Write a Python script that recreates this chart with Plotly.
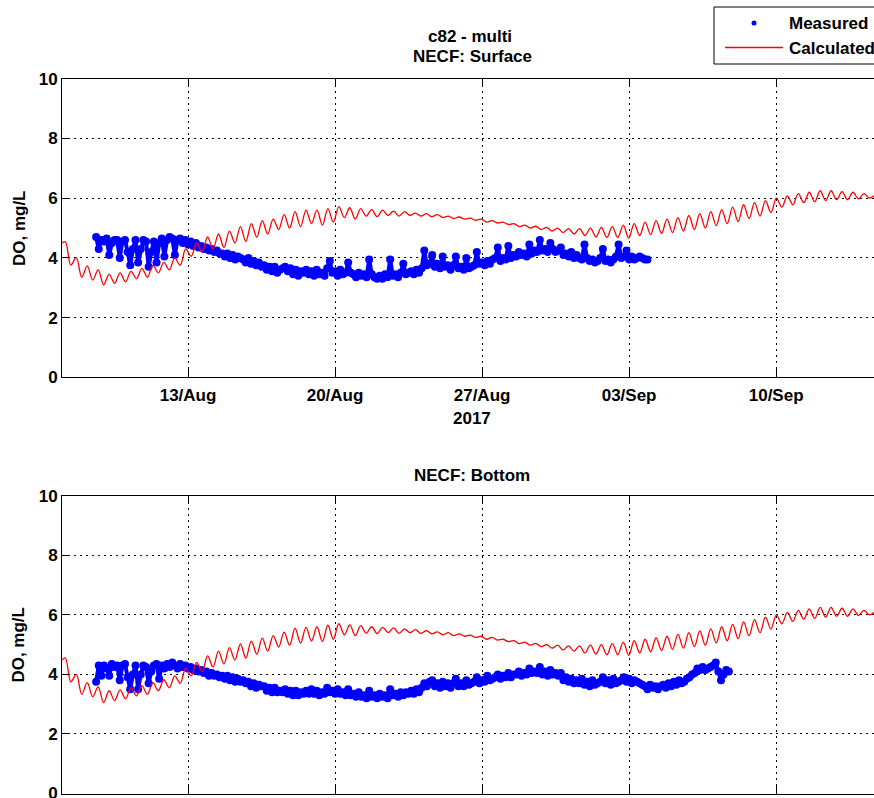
import pandas as pd
import plotly.graph_objects as go

# ---------------------------------------------------------------- data
tick_dates = ["2017-08-13", "2017-08-20", "2017-08-27", "2017-09-03", "2017-09-10"]
tick_labels = ["13/Aug", "20/Aug", "27/Aug", "03/Sep", "10/Sep"]
y_ticks = [0, 2, 4, 6, 8, 10]

x_start = "2017-08-07 00:00"
x_end = "2017-09-14 15:50"

# Measured DO (mg/L), 3-hourly samples starting 2017-08-08 15:00
meas_start = "2017-08-08 15:00"
meas_surface = [
    4.70, 4.30, 4.60, 4.55, 4.65, 4.10, 4.50, 4.60,
    4.60, 4.00, 4.55, 4.60, 4.20, 3.75, 4.30, 4.60,
    3.85, 4.30, 4.60, 4.55, 3.70, 4.20, 4.55, 3.85,
    4.50, 4.65, 4.05, 4.60, 4.70, 4.65, 4.10, 4.60,
    4.65, 4.50, 4.60, 4.45, 4.55, 4.40, 4.50, 4.35,
    4.40, 4.30, 4.35, 4.25, 4.30, 4.20, 4.25, 4.15,
    4.15, 4.05, 4.15, 4.00, 4.10, 3.95, 4.05, 4.00,
    3.95, 3.85, 4.00, 3.80, 3.90, 3.75, 3.85, 3.70,
    3.75, 3.60, 3.70, 3.55, 3.70, 3.50, 3.60, 3.65,
    3.70, 3.55, 3.65, 3.45, 3.60, 3.40, 3.55, 3.50,
    3.60, 3.45, 3.55, 3.40, 3.60, 3.45, 3.50, 3.40,
    3.65, 3.90, 3.50, 3.55, 3.40, 3.60, 3.45, 3.50,
    3.85, 3.50, 3.45, 3.35, 3.50, 3.40, 3.45, 3.35,
    3.95, 3.45, 3.35, 3.30, 3.40, 3.30, 3.45, 3.35,
    3.95, 3.40, 3.45, 3.35, 3.50, 3.80, 3.45, 3.50,
    3.55, 3.45, 3.60, 3.50, 3.65, 4.25, 3.75, 3.80,
    4.10, 3.70, 3.80, 3.65, 4.05, 3.70, 3.75, 3.60,
    3.75, 4.05, 3.65, 3.70, 3.60, 4.00, 3.65, 3.70,
    3.75, 4.20, 3.80, 3.85, 3.75, 3.90, 3.80, 3.95,
    4.00, 4.35, 3.90, 4.00, 3.95, 4.40, 4.00, 4.10,
    4.05, 4.20, 4.10, 4.15, 4.05, 4.45, 4.15, 4.25,
    4.20, 4.60, 4.25, 4.30, 4.20, 4.50, 4.30, 4.20,
    4.25, 4.35, 4.10, 4.15, 4.05, 4.20, 4.00, 4.10,
    4.00, 3.95, 4.45, 4.00, 3.90, 3.95, 3.85, 3.90,
    4.00, 4.30, 3.90, 3.95, 3.85, 3.95, 4.05, 4.45,
    4.00, 4.05, 4.25, 3.95, 4.05, 3.95, 4.00, 4.05,
    4.00, 3.95, 3.95,
]
meas_bottom = [
    3.75, 4.30, 3.95, 4.30, 4.20, 3.95, 4.35, 4.25,
    4.30, 3.80, 4.30, 4.35, 3.90, 3.50, 4.00, 4.30,
    3.50, 4.00, 4.30, 4.25, 3.70, 4.10, 4.30, 4.35,
    3.85, 4.30, 4.20, 4.35, 4.25, 4.40, 4.30, 4.20,
    4.35, 4.25, 4.30, 4.20, 4.25, 4.15, 4.20, 4.10,
    4.15, 4.05, 4.10, 3.95, 4.05, 3.95, 4.00, 3.90,
    3.95, 3.85, 3.95, 3.80, 3.90, 3.75, 3.85, 3.75,
    3.80, 3.70, 3.75, 3.60, 3.70, 3.55, 3.65, 3.60,
    3.60, 3.45, 3.55, 3.40, 3.55, 3.40, 3.45, 3.40,
    3.50, 3.35, 3.45, 3.30, 3.45, 3.30, 3.40, 3.35,
    3.45, 3.35, 3.50, 3.35, 3.45, 3.30, 3.40, 3.35,
    3.55, 3.40, 3.45, 3.35, 3.50, 3.35, 3.40, 3.30,
    3.50, 3.30, 3.35, 3.25, 3.40, 3.25, 3.30, 3.20,
    3.45, 3.25, 3.30, 3.20, 3.35, 3.25, 3.30, 3.20,
    3.50, 3.30, 3.35, 3.25, 3.40, 3.30, 3.40, 3.35,
    3.45, 3.35, 3.50, 3.40, 3.55, 3.70, 3.60, 3.75,
    3.80, 3.60, 3.70, 3.55, 3.75, 3.60, 3.70, 3.55,
    3.70, 3.85, 3.60, 3.70, 3.60, 3.80, 3.65, 3.70,
    3.75, 3.90, 3.70, 3.80, 3.75, 3.95, 3.80, 3.85,
    3.90, 4.00, 3.85, 3.95, 3.90, 4.05, 3.90, 4.00,
    4.00, 4.10, 3.95, 4.05, 4.00, 4.20, 4.05, 4.10,
    4.05, 4.25, 4.00, 4.10, 3.95, 4.15, 4.00, 4.05,
    3.95, 4.05, 3.80, 3.90, 3.75, 3.85, 3.70, 3.80,
    3.70, 3.85, 3.65, 3.75, 3.60, 3.80, 3.65, 3.70,
    3.75, 3.90, 3.70, 3.80, 3.65, 3.85, 3.70, 3.75,
    3.80, 3.90, 3.75, 3.85, 3.70, 3.80, 3.75, 3.70,
    3.65, 3.60, 3.50, 3.65, 3.55, 3.60, 3.50, 3.60,
    3.65, 3.55, 3.70, 3.60, 3.75, 3.65, 3.80, 3.70,
    3.75, 3.85, 3.90, 4.00, 4.05, 4.20, 4.15, 4.25,
    4.15, 4.20, 4.25, 4.30, 4.40, 4.10, 3.80, 4.00,
    4.15, 4.10,
]

# Calculated DO (mg/L): value at 2017-08-07 00:00, then alternating
# tidal highs and lows every 6.25 h starting 2017-08-07 03:50
calc_initial_surface = 4.49
calc_initial_bottom = 4.48
calc_start = "2017-08-07 03:50"
calc_surface = [
    4.54, 3.76, 4.01, 3.35, 3.73, 3.26, 3.60, 3.10, 3.45, 3.15,
    3.50, 3.20, 3.55, 3.30, 3.65, 3.35, 3.75, 3.50, 3.85, 3.60,
    4.00, 3.75, 4.30, 4.05, 4.50, 4.20, 4.70, 4.30, 4.80, 4.35,
    4.90, 4.50, 5.05, 4.55, 5.15, 4.70, 5.25, 4.80, 5.30, 4.95,
    5.45, 5.00, 5.55, 5.05, 5.60, 5.15, 5.60, 5.10, 5.65, 5.20,
    5.72, 5.35, 5.68, 5.30, 5.65, 5.40, 5.62, 5.38, 5.60, 5.42,
    5.57, 5.40, 5.55, 5.42, 5.50, 5.40, 5.48, 5.38, 5.45, 5.35,
    5.40, 5.32, 5.37, 5.30, 5.33, 5.26, 5.30, 5.20, 5.25, 5.17,
    5.20, 5.12, 5.15, 5.05, 5.10, 5.00, 5.06, 4.95, 5.02, 4.90,
    5.00, 4.85, 4.98, 4.80, 4.98, 4.75, 5.00, 4.70, 5.02, 4.68,
    5.05, 4.68, 5.10, 4.66, 5.15, 4.75, 5.20, 4.78, 5.25, 4.82,
    5.30, 4.85, 5.35, 4.90, 5.42, 4.95, 5.48, 5.00, 5.55, 5.08,
    5.62, 5.15, 5.70, 5.22, 5.78, 5.32, 5.85, 5.40, 5.92, 5.52,
    6.00, 5.70, 6.08, 5.78, 6.15, 5.85, 6.20, 5.88, 6.25, 5.92,
    6.25, 5.95, 6.22, 5.95, 6.20, 5.98, 6.15, 6.00, 6.10,
]
calc_bottom = [
    4.55, 3.75, 4.00, 3.33, 3.72, 3.25, 3.58, 3.05, 3.45, 3.12,
    3.48, 3.18, 3.55, 3.28, 3.62, 3.33, 3.72, 3.45, 3.82, 3.55,
    3.95, 3.70, 4.20, 3.95, 4.40, 4.10, 4.62, 4.25, 4.78, 4.35,
    4.90, 4.48, 5.02, 4.55, 5.12, 4.68, 5.22, 4.78, 5.30, 4.92,
    5.42, 4.98, 5.55, 5.05, 5.58, 5.12, 5.60, 5.10, 5.65, 5.18,
    5.70, 5.33, 5.66, 5.30, 5.64, 5.38, 5.60, 5.37, 5.58, 5.40,
    5.56, 5.38, 5.53, 5.40, 5.50, 5.38, 5.47, 5.36, 5.43, 5.33,
    5.40, 5.30, 5.36, 5.28, 5.32, 5.24, 5.28, 5.18, 5.24, 5.15,
    5.18, 5.10, 5.13, 5.03, 5.08, 4.98, 5.04, 4.93, 5.00, 4.88,
    4.98, 4.82, 4.96, 4.78, 4.96, 4.72, 4.98, 4.68, 5.00, 4.66,
    5.03, 4.66, 5.08, 4.64, 5.13, 4.72, 5.18, 4.76, 5.23, 4.80,
    5.28, 4.84, 5.34, 4.88, 5.40, 4.93, 5.46, 4.98, 5.53, 5.06,
    5.60, 5.13, 5.68, 5.20, 5.76, 5.30, 5.84, 5.40, 5.92, 5.52,
    6.00, 5.70, 6.08, 5.78, 6.15, 5.85, 6.20, 5.88, 6.25, 5.92,
    6.25, 5.95, 6.22, 5.95, 6.20, 5.98, 6.15, 6.00, 6.10,
]

# ---------------------------------------------------------------- styling
FONT = "Liberation Sans, Arial, Helvetica, sans-serif"
FS = 17
W, H = 874, 798
ML = 62
PLOT_W = W - ML
BLUE = "#0000ff"
RED = "#ff0000"


def px2x(px):
    return (px - ML) / PLOT_W


def py2y(py):
    return 1 - py / H


def text_font(size=FS):
    return dict(family=FONT, size=size, color="black", weight="bold")


meas_t_surface = pd.date_range(meas_start, periods=len(meas_surface), freq="3h")
meas_t_bottom = pd.date_range(meas_start, periods=len(meas_bottom), freq="3h")


def calc_times(n):
    t = pd.date_range(calc_start, periods=n, freq="375min")
    return [pd.Timestamp(x_start)] + list(t)


fig = go.Figure()

panels = [
    ("x", "y", meas_t_surface, meas_surface, calc_initial_surface, calc_surface),
    ("x2", "y2", meas_t_bottom, meas_bottom, calc_initial_bottom, calc_bottom),
]
for xa, ya, mt, mv, c0, cv in panels:
    # dense measured record: dots joined so rapid swings read as streaks
    fig.add_trace(go.Scatter(
        x=mt, y=mv, mode="lines+markers", name="Measured",
        marker=dict(color=BLUE, size=8, line=dict(width=0)),
        line=dict(color=BLUE, width=4),
        xaxis=xa, yaxis=ya, showlegend=False,
    ))
    fig.add_trace(go.Scatter(
        x=calc_times(len(cv)), y=[c0] + cv, mode="lines", name="Calculated",
        line=dict(color=RED, width=1.3, shape="spline", smoothing=1.0),
        xaxis=xa, yaxis=ya, showlegend=False,
    ))

grid = dict(showgrid=True, gridcolor="black", gridwidth=1, griddash="2px,4px")
xcommon = dict(
    type="date", range=[x_start, x_end], tickvals=tick_dates, ticktext=tick_labels,
    showline=True, linecolor="black", linewidth=1, mirror="ticks",
    ticks="inside", ticklen=8, tickcolor="black", zeroline=False,
    tickfont=text_font(), **grid,
)
ycommon = dict(
    range=[0, 10], tickvals=y_ticks, ticktext=[str(v) for v in y_ticks],
    showline=True, linecolor="black", linewidth=1, mirror=False,
    ticks="inside", ticklen=8, tickcolor="black", zeroline=False,
    ticklabeloverflow="allow",
    tickfont=text_font(), **grid,
)

top_y0, top_y1 = 377.3, 78.8
bot_y0, bot_y1 = 793.5, 495.7

fig.update_layout(
    width=W, height=H, template="none",
    margin=dict(l=ML, r=0, t=0, b=0, pad=0),
    paper_bgcolor="white", plot_bgcolor="white",
    showlegend=False,
    xaxis=dict(anchor="y", domain=[0, 1], ticklabelstandoff=2, **xcommon),
    yaxis=dict(anchor="x", domain=[py2y(top_y0), py2y(top_y1)], **ycommon),
    xaxis2=dict(anchor="y2", domain=[0, 1], showticklabels=False, **xcommon),
    yaxis2=dict(anchor="x2", domain=[py2y(bot_y0), py2y(bot_y1)], **ycommon),
)

ann = []
# titles and axis labels
ann.append(dict(text="c82 - multi", x=px2x(470), y=py2y(37), xref="paper", yref="paper",
                showarrow=False, xanchor="center", yanchor="middle", font=text_font()))
ann.append(dict(text="NECF: Surface", x=px2x(472), y=py2y(56), xref="paper", yref="paper",
                showarrow=False, xanchor="center", yanchor="middle", font=text_font()))
ann.append(dict(text="NECF: Bottom", x=px2x(472), y=py2y(475), xref="paper", yref="paper",
                showarrow=False, xanchor="center", yanchor="middle", font=text_font()))
ann.append(dict(text="2017", x=px2x(472), y=py2y(418), xref="paper", yref="paper",
                showarrow=False, xanchor="center", yanchor="middle", font=text_font()))
for yc in [(top_y0 + top_y1) / 2, (bot_y0 + bot_y1) / 2]:
    ann.append(dict(text="DO, mg/L", x=px2x(19), y=py2y(yc), xref="paper", yref="paper",
                    showarrow=False, xanchor="center", yanchor="middle", textangle=-90,
                    font=text_font()))
# legend entries
ann.append(dict(text="Measured", x=px2x(787), y=py2y(23), xref="paper", yref="paper",
                showarrow=False, xanchor="left", yanchor="middle", font=text_font()))
ann.append(dict(text="Calculated", x=px2x(787), y=py2y(48), xref="paper", yref="paper",
                showarrow=False, xanchor="left", yanchor="middle", font=text_font()))

shapes = [
    dict(type="rect", xref="paper", yref="paper",
         x0=px2x(714), x1=px2x(900), y0=py2y(64), y1=py2y(7),
         line=dict(color="black", width=1), fillcolor="white", layer="above"),
    dict(type="circle", xref="paper", yref="paper",
         x0=px2x(751.5), x1=px2x(756.5), y0=py2y(25.5), y1=py2y(20.5),
         line=dict(color=BLUE, width=0), fillcolor=BLUE, layer="above"),
    dict(type="line", xref="paper", yref="paper",
         x0=px2x(725), x1=px2x(783), y0=py2y(47.5), y1=py2y(47.5),
         line=dict(color=RED, width=1.5), layer="above"),
]
fig.update_layout(annotations=ann, shapes=shapes)

fig.write_html("out.html")
